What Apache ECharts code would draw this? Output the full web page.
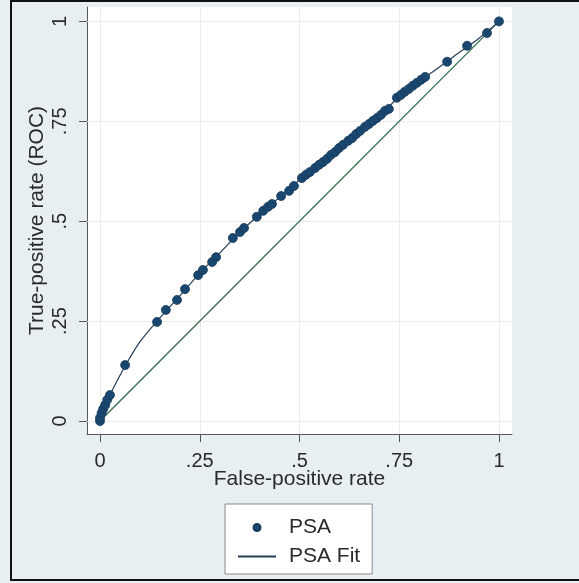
<!DOCTYPE html>
<html>
<head>
<meta charset="utf-8">
<script src="https://cdn.jsdelivr.net/npm/echarts@6/dist/echarts.min.js"></script>
<style>
  html, body { margin: 0; padding: 0; background: #e8eff2; overflow: hidden; }
  #chart { width: 579px; height: 583px; }
</style>
</head>
<body>
<div id="chart"></div>
<script>
// empirical ROC points (false-positive rate, true-positive rate)
const psaFpr = [0, 0, 0.004, 0.008, 0.013, 0.018, 0.025, 0.063, 0.143, 0.165, 0.193, 0.213,
  0.246, 0.258, 0.281, 0.291, 0.333, 0.351, 0.361, 0.393, 0.409, 0.421, 0.431, 0.454,
  0.474, 0.486, 0.506, 0.516, 0.526, 0.539, 0.549, 0.559, 0.569, 0.579, 0.589, 0.599,
  0.609, 0.622, 0.632, 0.642, 0.652, 0.664, 0.674, 0.684, 0.694, 0.704, 0.714, 0.724,
  0.744, 0.754, 0.764, 0.774, 0.784, 0.794, 0.805, 0.815, 0.870, 0.920, 0.970, 1];
const psaTpr = [0, 0.008, 0.020, 0.030, 0.040, 0.053, 0.065, 0.140, 0.248, 0.278, 0.303, 0.330,
  0.365, 0.378, 0.398, 0.410, 0.458, 0.473, 0.483, 0.511, 0.526, 0.536, 0.543, 0.563,
  0.576, 0.588, 0.608, 0.616, 0.623, 0.633, 0.641, 0.648, 0.656, 0.666, 0.673, 0.683,
  0.691, 0.701, 0.708, 0.718, 0.726, 0.736, 0.743, 0.751, 0.758, 0.766, 0.776, 0.781,
  0.809, 0.816, 0.824, 0.831, 0.839, 0.846, 0.854, 0.861, 0.899, 0.939, 0.971, 1];

// fitted curve
const fitFpr = [0, 0.005, 0.01, 0.02, 0.04, 0.07, 0.1, 0.15, 0.2, 0.25, 0.3, 0.35, 0.4,
  0.45, 0.5, 0.55, 0.6, 0.65, 0.7, 0.75, 0.8, 0.85, 0.9, 0.95, 1];
const fitTpr = [0, 0.022, 0.034, 0.055, 0.095, 0.15, 0.198, 0.258, 0.313, 0.37, 0.42, 0.472,
  0.517, 0.56, 0.603, 0.641, 0.683, 0.725, 0.763, 0.812, 0.85, 0.885, 0.922, 0.958, 1];

// reference diagonal
const refFpr = [0, 1];
const refTpr = [0, 1];

const tickValues = [0, 0.25, 0.5, 0.75, 1];

const font = "'Liberation Sans', Arial, sans-serif";
const textColor = "#2a2a2a";

function fmt(v) {
  if (v === 0) return "0";
  if (v === 1) return "1";
  return String(v).replace(/^0/, "");
}
function zip(a, b) {
  return a.map((v, i) => [v, b[i]]);
}

const chart = echarts.init(document.getElementById("chart"), null, { renderer: "canvas" });

const option = {
  backgroundColor: "#e8eff2",
  animation: false,
  graphic: [
    {
      // outer frame: left, top and bottom edges only
      type: "polyline",
      shape: { points: [[600, 1], [11, 1], [11, 580], [600, 580]] },
      style: { fill: null, stroke: "#111", lineWidth: 2 },
      silent: true,
      z: 100
    }
  ],
  grid: {
    left: 87,
    top: 7,
    right: 67,
    bottom: 149,
    show: true,
    backgroundColor: "#fff",
    borderWidth: 0,
    containLabel: false
  },
  legend: {
    left: 225,
    top: 504,
    orient: "vertical",
    backgroundColor: "#fff",
    borderColor: "#8a8a8a",
    borderWidth: 1,
    padding: [13, 12, 7, 12],
    itemGap: 8,
    itemWidth: 38,
    itemHeight: 7,
    textStyle: { fontFamily: font, fontSize: 21, color: textColor, padding: [0, 0, 0, 8] },
    data: [
      { name: "PSA", icon: "circle" },
      { name: "PSA Fit", itemStyle: { opacity: 0 } }
    ]
  },
  xAxis: {
    type: "value",
    min: -0.0326,
    max: 1.0326,
    name: "False-positive rate",
    nameLocation: "middle",
    nameGap: 35,
    nameMoveOverlap: false,
    nameTextStyle: { fontFamily: font, fontSize: 21, color: textColor },
    axisLine: { show: true, onZero: false, lineStyle: { color: "#555", width: 1 } },
    axisTick: { show: true, length: 8, customValues: tickValues, lineStyle: { color: "#555" } },
    axisLabel: {
      customValues: tickValues,
      formatter: fmt,
      margin: 17,
      fontFamily: font,
      fontSize: 20,
      color: textColor
    },
    splitLine: { show: false }
  },
  yAxis: {
    type: "value",
    min: -0.0325,
    max: 1.036,
    name: "True-positive rate (ROC)",
    nameLocation: "middle",
    nameRotate: 90,
    nameGap: 39,
    nameMoveOverlap: false,
    nameTextStyle: { fontFamily: font, fontSize: 21, color: textColor },
    axisLine: { show: true, onZero: false, lineStyle: { color: "#555", width: 1 } },
    axisTick: { show: true, length: 8, customValues: tickValues, lineStyle: { color: "#555" } },
    axisLabel: {
      customValues: tickValues,
      formatter: fmt,
      rotate: 90,
      margin: 17,
      fontFamily: font,
      fontSize: 20,
      color: textColor
    },
    splitLine: { show: false }
  },
  series: [
    {
      // grid lines at the labelled ticks, kept under the data
      name: "grid",
      type: "line",
      data: [],
      z: 1,
      markLine: {
        z: 1,
        silent: true,
        symbol: "none",
        label: { show: false },
        lineStyle: { color: "#ebebeb", type: "solid", width: 1 },
        data: tickValues.map(v => ({ xAxis: v })).concat(tickValues.map(v => ({ yAxis: v })))
      }
    },
    {
      name: "Reference",
      type: "line",
      data: zip(refFpr, refTpr),
      symbol: "none",
      lineStyle: { color: "#2f6a4b", width: 1.3 },
      z: 2
    },
    {
      name: "PSA Fit",
      type: "line",
      data: zip(fitFpr, fitTpr),
      symbol: "none",
      smooth: 0.3,
      itemStyle: { color: "#1a476f" },
      lineStyle: { color: "#243d56", width: 1.2 },
      z: 3
    },
    {
      name: "PSA",
      type: "scatter",
      data: zip(psaFpr, psaTpr),
      symbolSize: 9,
      itemStyle: { color: "#1a476f", borderColor: "#183a5a", borderWidth: 0.8, opacity: 1 },
      z: 4
    }
  ]
};

chart.setOption(option);
</script>
</body>
</html>
